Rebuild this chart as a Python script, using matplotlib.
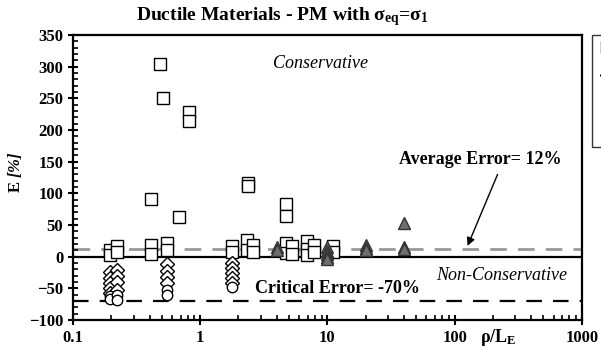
import numpy as np
import matplotlib
matplotlib.use('Agg')
import matplotlib.pyplot as plt
from matplotlib.ticker import MultipleLocator, FixedLocator, NullFormatter

# serif bold look of the original (Times-like)
plt.rcParams['font.family'] = ['Liberation Serif', 'DejaVu Serif']
plt.rcParams['mathtext.fontset'] = 'custom'
plt.rcParams['mathtext.rm'] = 'Liberation Serif'
plt.rcParams['mathtext.it'] = 'Liberation Serif:italic'
plt.rcParams['mathtext.bf'] = 'Liberation Serif:bold'
if 'mathtext.bfit' in plt.rcParams:
    plt.rcParams['mathtext.bfit'] = 'Liberation Serif:italic:bold'

# data: rho/L_E and error E [%]
x_sq = [0.195, 0.195, 0.22, 0.22, 0.41, 0.41, 0.41, 0.485, 0.51, 0.55, 0.55, 0.68,
        0.82, 0.82, 1.79, 1.79, 2.34, 2.34, 2.39, 2.39, 2.61, 2.61, 4.75, 4.75,
        4.7, 4.7, 5.27, 5.27, 6.9, 6.9, 6.9, 7.8, 7.8, 11, 11]
E_sq = [10, 3, 17, 8, 91, 18, 4, 305, 250, 22, 10, 63,
        229, 214, 17, 8, 26, 10, 117, 112, 18, 8, 84, 65,
        22, 6, 17, 5, 25, 12, 3, 18, 8, 17, 8]

x_dm = [0.195] * 5 + [0.22] * 4 + [0.55] * 4 + [1.79] * 5
E_dm = [-24, -34, -42, -50, -58, -21, -30, -40, -52, -12, -22, -32, -42,
        -10, -18, -26, -34, -41]

x_ci = [0.195, 0.195, 0.22, 0.22, 0.55, 0.55, 1.79]
E_ci = [-62, -66, -60, -68, -52, -60, -48]

x_tr = [4.0, 4.0, 10, 10, 10, 10, 10, 20, 20, 20, 40, 40, 40]
E_tr = [15, 11, 15, 9, 4, 0, -4, 18, 14, 11, 53, 16, 12]

avg_err = 12
crit_err = -70

fig = plt.figure(figsize=(6.01, 3.58), dpi=100)
ax = fig.add_axes([0.1215, 0.106, 0.8465, 0.796])

ax.axhline(avg_err, color='#999999', lw=2.0, dashes=(6, 4), zorder=1)
ax.axhline(0, color='black', lw=1.6, zorder=1)
ax.axhline(crit_err, color='black', lw=1.6, dashes=(7, 5), zorder=1)

h1, = ax.plot(x_sq, E_sq, 's', ms=8, mfc='white', mec='black', mew=1.0, ls='none', zorder=3)
h2, = ax.plot(x_dm, E_dm, 'D', ms=7.3, mfc='white', mec='black', mew=1.0, ls='none', zorder=3)
h3, = ax.plot(x_ci, E_ci, 'o', ms=7.5, mfc='white', mec='black', mew=1.0, ls='none', zorder=3)
h4, = ax.plot(x_tr, E_tr, '^', ms=8, mfc='#6e6e6e', mec='#333333', mew=1.0, ls='none', zorder=3)

ax.set_xscale('log')
ax.set_xlim(0.1, 1000)
ax.set_ylim(-100, 350)

ax.xaxis.set_major_locator(FixedLocator([0.1, 1, 10, 100, 1000]))
ax.set_xticklabels(['0.1', '1', '10', '100', '1000'])
ax.xaxis.set_minor_locator(FixedLocator([m * 10.0 ** d for d in range(-1, 3) for m in range(2, 10)]))
ax.xaxis.set_minor_formatter(NullFormatter())
ax.yaxis.set_major_locator(MultipleLocator(50))
ax.yaxis.set_minor_locator(MultipleLocator(10))

ax.tick_params(which='major', direction='inout', length=7, width=1.5, labelsize=12)
ax.tick_params(which='minor', direction='in', length=3.5, width=1.2)
for lab in ax.get_xticklabels() + ax.get_yticklabels():
    lab.set_fontweight('bold')
for sp in ax.spines.values():
    sp.set_linewidth(1.6)

ax.text(8.8, 305, 'Conservative', style='italic', fontsize=13, ha='center', va='center')
ax.text(234, -29, 'Non-Conservative', style='italic', fontsize=13, ha='center', va='center')
ax.text(12, -50, 'Critical Error= -70%', fontweight='bold', fontsize=13, ha='center', va='center')
ax.text(160, 153, 'Average Error= 12%', fontweight='bold', fontsize=13, ha='center', va='center')
ax.annotate('', xy=(124, 13), xytext=(222, 134),
            arrowprops=dict(arrowstyle='-|>', color='black', lw=1.0, mutation_scale=12))

ax.text(220, -0.025, r'ρ/L$_{\mathbf{E}}$', transform=ax.get_xaxis_transform(),
        fontweight='bold', fontsize=13, ha='center', va='top')
fig.text(0.025, 0.52, r'E $\mathbfit{[\%]}$', rotation=90, fontweight='bold', fontsize=12,
         ha='center', va='center')
fig.text(0.47, 0.953, r'Ductile Materials - PM with σ$_{\mathbf{eq}}$=σ$_{\mathbf{1}}$',
         fontweight='bold', fontsize=14, ha='center', va='center')

# legend sits past the right edge; only its left strip shows, as in the source
leg = ax.legend([h1, h2, h3, h4], ['', '', '', ''], loc='upper left', bbox_to_anchor=(1.02, 1.0),
                frameon=True, fancybox=False, edgecolor='black', fontsize=10,
                labelspacing=1.1, borderpad=0.5, handlelength=1.1, borderaxespad=0)
leg.get_frame().set_linewidth(1.0)

fig.savefig('out.png', dpi=100)
